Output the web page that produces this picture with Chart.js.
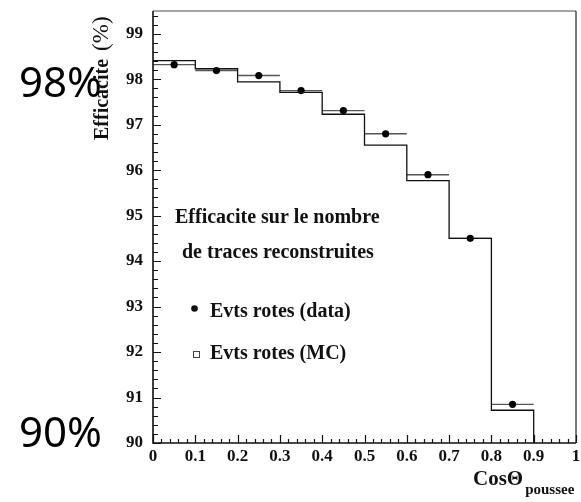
<!DOCTYPE html>
<html>
<head>
<meta charset="utf-8">
<title>Efficacite</title>
<script src="https://cdn.jsdelivr.net/npm/chart.js@4.4.1/dist/chart.umd.min.js"></script>
<style>
  html, body { margin: 0; padding: 0; background: #fff; }
  #effChart { display: block; }
</style>
</head>
<body>
<canvas id="effChart" width="581" height="502"></canvas>
<script>
// bins in cos(theta) of the thrust axis
const binLow = [0, 0.1, 0.2, 0.3, 0.4, 0.5, 0.6, 0.7, 0.8];
const binCenters = [0.05, 0.15, 0.25, 0.35, 0.45, 0.55, 0.65, 0.75, 0.85];
const binWidth = 0.1;
// efficiency (%) : rotated events, data and MC
const dataEff = [98.32, 98.19, 98.08, 97.75, 97.31, 96.80, 95.90, 94.50, 90.85];
const mcEff = [98.41, 98.23, 97.94, 97.71, 97.23, 96.55, 95.77, 94.50, 90.72];
// axis ranges and tick marks
const yMin = 90, yMax = 99.5;
const xTickValues = Array.from({ length: 51 }, (_, i) => i / 50);
const yTickValues = Array.from({ length: 48 }, (_, i) => Math.round((90 + i * 0.2) * 10) / 10);

const serif = "'Liberation Serif', 'Times New Roman', serif";

// histogram outline: step line over the bin edges, dropping to the axis after the last bin
function mcSteps() {
    const pts = binLow.map((x, i) => ({ x: x, y: mcEff[i] }));
    pts.push({ x: binLow[binLow.length - 1] + binWidth, y: yMin });
    return pts;
}

const isMajor = (v, step) => Math.abs(v / step - Math.round(v / step)) < 1e-6;

// horizontal bars over the bin width for the data points
const binBars = {
    id: 'binBars',
    beforeDatasetsDraw(chart) {
        const { ctx, scales: { x, y } } = chart;
        ctx.save();
        ctx.strokeStyle = '#555';
        ctx.lineWidth = 1.4;
        binCenters.forEach((c, i) => {
            const py = y.getPixelForValue(dataEff[i]);
            ctx.beginPath();
            ctx.moveTo(x.getPixelForValue(c - binWidth / 2), py);
            ctx.lineTo(x.getPixelForValue(c + binWidth / 2), py);
            ctx.stroke();
        });
        ctx.restore();
    }
};

// frame, inner ticks and the text around the plot
const decorations = {
    id: 'decorations',
    afterDraw(chart) {
        const { ctx, chartArea: a, scales: { x, y } } = chart;
        ctx.save();

        // frame
        ctx.lineWidth = 1.5;
        ctx.strokeStyle = '#888';
        ctx.beginPath(); ctx.moveTo(a.left, a.top); ctx.lineTo(a.right, a.top); ctx.stroke();
        ctx.strokeStyle = '#222';
        ctx.lineWidth = 1.2;
        ctx.beginPath(); ctx.moveTo(a.right, a.top); ctx.lineTo(a.right, a.bottom); ctx.stroke();
        ctx.lineWidth = 1.6;
        ctx.strokeStyle = '#111';
        ctx.beginPath();
        ctx.moveTo(a.left, a.top); ctx.lineTo(a.left, a.bottom); ctx.lineTo(a.right, a.bottom);
        ctx.stroke();

        // ticks pointing into the plot
        ctx.lineWidth = 1.2;
        ctx.beginPath();
        yTickValues.forEach(v => {
            const py = Math.round(y.getPixelForValue(v)) + 0.5;
            const len = isMajor(v, 1) ? 8 : 5;
            ctx.moveTo(a.left, py); ctx.lineTo(a.left + len, py);
        });
        xTickValues.forEach(v => {
            const px = Math.round(x.getPixelForValue(v)) + 0.5;
            const len = isMajor(v, 0.1) ? 8 : 4;
            ctx.moveTo(px, a.bottom); ctx.lineTo(px, a.bottom - len);
        });
        ctx.stroke();

        ctx.fillStyle = '#111';
        ctx.textBaseline = 'alphabetic';

        // y title, rotated
        ctx.save();
        ctx.translate(108, 140);
        ctx.rotate(-Math.PI / 2);
        ctx.font = 'bold 20px ' + serif;
        ctx.fillText('Efficacite', 0, 0);
        const w1 = ctx.measureText('Efficacite ').width;
        ctx.font = '23px ' + serif;
        ctx.fillText('(%)', w1 + 3, 0);
        ctx.restore();

        // x title with subscript
        ctx.font = 'bold 21px ' + serif;
        ctx.fillText('Cos\u0398', 473, 485);
        const wc = ctx.measureText('Cos\u0398').width;
        ctx.font = 'bold 15px ' + serif;
        ctx.fillText('poussee', 473 + wc + 2, 494);

        // caption and legend
        ctx.font = 'bold 20px ' + serif;
        ctx.fillText('Efficacite sur le nombre', 175, 223);
        ctx.fillText('de traces reconstruites', 182, 258);
        ctx.fillText('Evts rotes (data)', 210, 317);
        ctx.fillText('Evts rotes (MC)', 210, 359);
        ctx.beginPath();
        ctx.arc(194.5, 308.5, 3.3, 0, Math.PI * 2);
        ctx.fill();
        ctx.strokeStyle = '#444';
        ctx.lineWidth = 1;
        ctx.strokeRect(193.5, 351.5, 6, 6);

        // large percentage marks at the left
        ctx.fillStyle = '#000';
        ctx.font = "42px 'Noto Sans', sans-serif";
        ctx.fillText('98%', 19, 97);
        ctx.fillText('90%', 19, 447);

        ctx.restore();
    }
};

const ctx = document.getElementById('effChart').getContext('2d');
new Chart(ctx, {
    data: {
        datasets: [{
            type: 'line',
            label: 'Evts rotes (MC)',
            data: mcSteps(),
            stepped: 'before',
            borderColor: '#111',
            borderWidth: 1.3,
            pointRadius: 0,
            fill: false
        }, {
            type: 'scatter',
            label: 'Evts rotes (data)',
            data: binCenters.map((c, i) => ({ x: c, y: dataEff[i] })),
            pointRadius: 3.6,
            backgroundColor: '#000',
            borderColor: '#000',
            borderWidth: 0
        }]
    },
    options: {
        responsive: false,
        animation: false,
        devicePixelRatio: 1,
        layout: { padding: { left: 0, right: 5, top: 11, bottom: 0 } },
        plugins: { legend: { display: false }, tooltip: { enabled: false } },
        scales: {
            x: {
                type: 'linear',
                min: 0,
                max: 1,
                afterBuildTicks: axis => { axis.ticks = xTickValues.map(v => ({ value: v })); },
                afterFit: axis => {
                    axis.height = 59;
                    axis.paddingLeft = 0;
                    axis.paddingRight = 0;
                },
                grid: { display: false, drawTicks: false },
                border: { display: false },
                ticks: {
                    autoSkip: false,
                    maxRotation: 0,
                    padding: 3,
                    color: '#111',
                    font: { family: serif, weight: 'bold', size: 17 },
                    callback: v => isMajor(v, 0.1) ? (v === 0 || v === 1 ? String(v) : v.toFixed(1)) : ''
                }
            },
            y: {
                type: 'linear',
                min: yMin,
                max: yMax,
                afterBuildTicks: axis => { axis.ticks = yTickValues.map(v => ({ value: v })); },
                afterFit: axis => {
                    axis.width = 153;
                    axis.paddingTop = 0;
                    axis.paddingBottom = 0;
                },
                grid: { display: false, drawTicks: false },
                border: { display: false },
                ticks: {
                    autoSkip: false,
                    padding: 10,
                    color: '#111',
                    font: { family: serif, weight: 'bold', size: 17 },
                    callback: v => isMajor(v, 1) ? String(Math.round(v)) : ''
                }
            }
        }
    },
    plugins: [binBars, decorations]
});
</script>
</body>
</html>
